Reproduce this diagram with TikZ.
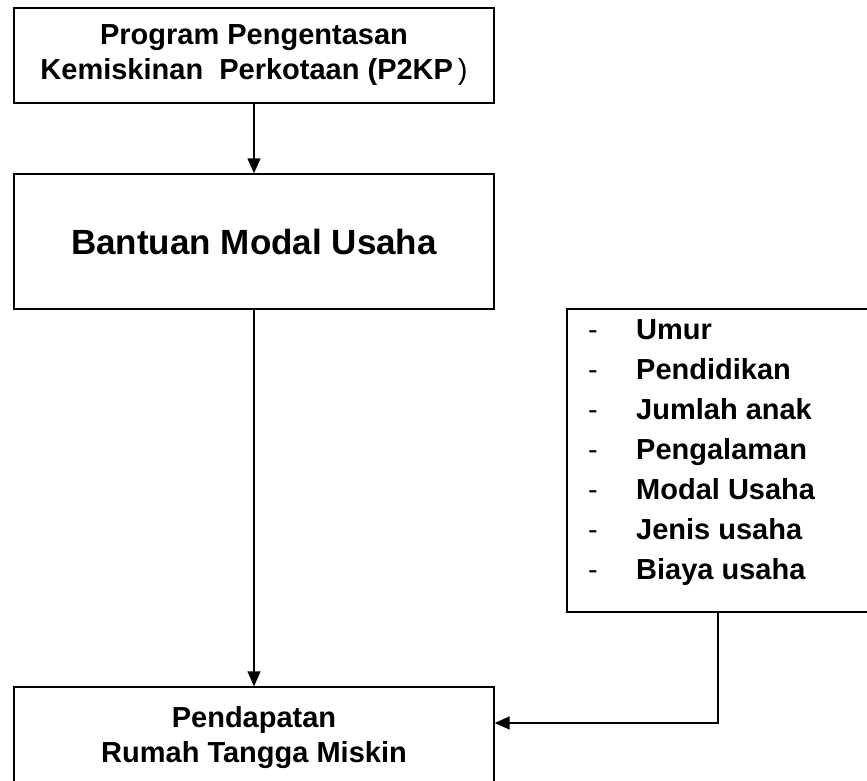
\documentclass[tikz,border=0pt]{standalone}
\usepackage{fontspec}
\setmainfont{Liberation Sans}
\usetikzlibrary{arrows.meta}

\begin{document}
\begin{tikzpicture}[x=1pt, y=-1pt, >={Triangle[length=15pt,width=13pt]},
  box/.style={draw, line width=1.3pt, inner sep=0pt},
  txt/.style={font=\fontsize{29}{35}\selectfont\bfseries, align=center},
  item/.style={font=\fontsize{29}{35}\selectfont\bfseries, anchor=base west, inner sep=0pt}]
\useasboundingbox (0,0) rectangle (867,781);
\clip (0,0) rectangle (867,781);
\node[box, txt, minimum width=480pt, minimum height=95pt] at (254,55.5) (P2KP)
  {Program Pengentasan\\Kemiskinan~~Perkotaan (P2KP\,{\mdseries )}};
\node[box, minimum width=480pt, minimum height=135pt,
  font=\fontsize{35}{42}\selectfont\bfseries] at (254,241.5) (BMU) {Bantuan Modal Usaha};
\node[box, txt, minimum width=480pt, minimum height=102pt] at (254,738) (PRT)
  {Pendapatan\\Rumah Tangga Miskin};
\node[box, minimum width=302pt, minimum height=303pt] at (718,460.5) (F) {};
\foreach \lbl [count=\i] in {Umur, Pendidikan, Jumlah anak, Pengalaman,
    Modal Usaha, Jenis usaha, Biaya usaha} {
  \node[item] at (588, 299+40*\i) (D\i) {\mdseries -};
  \node[item] at (636, 299+40*\i) (F\i) {\lbl};
}
\draw[line width=1.3pt, ->] (P2KP) -- (BMU);
\draw[line width=1.3pt, ->] (BMU) -- (PRT);
\draw[line width=1.3pt, ->] (F) |- ([yshift=15pt]PRT.east);
\end{tikzpicture}
\end{document}
